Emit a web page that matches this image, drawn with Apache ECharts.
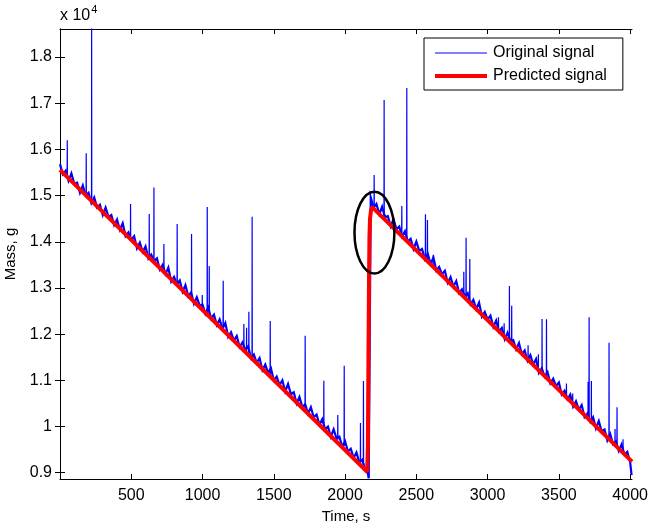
<!DOCTYPE html>
<html>
<head>
<meta charset="utf-8">
<script src="https://cdn.jsdelivr.net/npm/echarts@6/dist/echarts.min.js"></script>
<style>
  html, body { margin: 0; padding: 0; background: #fff; }
  #main { width: 651px; height: 530px; }
</style>
</head>
<body>
<div id="main"></div>
<script>
// original signal, sampled every 20 s (first part before refill, second after)
var seg1Start = 0, seg2Start = 2180, sampleStep = 20;
var seg1Mass = [
  15680, 15460, 15540, 15320, 15480, 15260, 15280, 15060, 15220, 15000,
  15060, 14840, 14960, 14740, 14800, 14580, 14740, 14540, 14580, 14360,
  14480, 14260, 14400, 14120, 14200, 14040, 14120, 13860, 13980, 13780,
  13900, 13640, 13720, 13580, 13640, 13400, 13500, 13300, 13440, 13140,
  13240, 13080, 13160, 12920, 13060, 12820, 12900, 12660, 12800, 12620,
  12640, 12440, 12580, 12340, 12420, 12200, 12320, 12120, 12240, 11940,
  12040, 11860, 11960, 11720, 11820, 11660, 11740, 11480, 11560, 11380,
  11480, 11220, 11340, 11160, 11260, 11000, 11080, 10900, 11000, 10760,
  10920, 10700, 10740, 10500, 10640, 10420, 10480, 10280, 10420, 10200,
  10260, 10040, 10160, 9940, 10000, 9780, 9940, 9740, 9780, 9560,
  9680, 9460, 9520, 9320, 9440, 9220, 9280, 9080, 8980
];
var seg2Mass = [
  14960, 14740, 14820, 14597, 14756, 14535, 14554, 14333, 14492, 14271,
  14330, 14109, 14228, 14007, 14066, 13845, 14004, 13803, 13842, 13621,
  13740, 13519, 13658, 13377, 13456, 13295, 13374, 13113, 13232, 13031,
  13150, 12889, 12968, 12827, 12886, 12645, 12744, 12543, 12682, 12381,
  12480, 12319, 12398, 12157, 12296, 12055, 12134, 11893, 12032, 11851,
  11870, 11669, 11808, 11567, 11646, 11425, 11544, 11343, 11462, 11161,
  11260, 11079, 11178, 10937, 11036, 10875, 10954, 10693, 10772, 10591,
  10690, 10429, 10548, 10367, 10466, 10205, 10284, 10103, 10202, 9961,
  10120, 9899, 9938, 9697, 9836, 9615, 9674, 9473, 9612, 9391,
  9450, 9229
];
var extraPoints = [[2166, 8880], [4010, 8950]];
// spikes [time, mass at foot, peak mass]
var spikes = [
  [51, 15407, 16200], [184, 15008, 15914], [222, 14894, 18700], [495, 14075, 14816],
  [626, 13682, 14600], [659, 13583, 15177], [729, 13373, 13950], [822, 13094, 14383],
  [923, 12791, 14166], [998, 12566, 12846], [1033, 12461, 14750], [1047, 12419, 13474],
  [1145, 12125, 13155], [1290, 11690, 12218], [1309, 11633, 12138], [1325, 11585, 12484],
  [1348, 11516, 14541], [1475, 11135, 12283], [1720, 10400, 11965], [1851, 10007, 10990],
  [1949, 9713, 10248], [1994, 9578, 11315], [2108, 9236, 10075], [2129, 9173, 10984],
  [2204, 14767, 15444], [2274, 14553, 17067], [2398, 14175, 14773], [2433, 14068, 17327],
  [2564, 13669, 14593], [2578, 13626, 14470], [2618, 13504, 13712], [2833, 12848, 13350],
  [2849, 12800, 14087], [2875, 12720, 13625], [3076, 12107, 12363], [3116, 11985, 12233],
  [3153, 11872, 13041], [3169, 11824, 12615], [3284, 11473, 11757], [3356, 11253, 11562],
  [3382, 11174, 12326], [3413, 11079, 12320], [3553, 10652, 10934], [3597, 10518, 10717],
  [3705, 10189, 10969], [3712, 10167, 12363], [3728, 10119, 10984], [3852, 9740, 11813],
  [3894, 9612, 9945], [3908, 9570, 10415], [3950, 9441, 9722]
];
// predicted signal
var predTime = [0, 2155, 2160, 2164, 2168, 2171, 2175, 2182, 2190, 2197, 4013];
var predMass = [15555, 9020, 9600, 11500, 13200, 14100, 14500, 14680, 14750, 14770, 9240];

var xTicks = [500, 1000, 1500, 2000, 2500, 3000, 3500, 4000];
var yTicks = [9000, 10000, 11000, 12000, 13000, 14000, 15000, 16000, 17000, 18000];
var ellipseAt = [2206, 14199], ellipseSpan = [280, 1770];

var original = [];
seg1Mass.forEach(function (m, i) { original.push([seg1Start + i * sampleStep, m]); });
seg2Mass.forEach(function (m, i) { original.push([seg2Start + i * sampleStep, m]); });
extraPoints.forEach(function (p) { original.push(p); });
original.sort(function (a, b) { return a[0] - b[0]; });

// spikes drawn thin, each one a separate little piece
var spikeLines = [];
spikes.forEach(function (p) {
  spikeLines.push([p[0] - 1, p[1]]);
  spikeLines.push([p[0], p[2]]);
  spikeLines.push([p[0] + 1, p[1]]);
  spikeLines.push([p[0] + 1, null]);
});

var predicted = predTime.map(function (t, i) { return [t, predMass[i]]; });

var font = 'Liberation Sans, Arial, Helvetica, sans-serif';
var myChart = echarts.init(document.getElementById('main'));

var option = {
  animation: false,
  textStyle: { fontFamily: font },
  grid: { left: 60, right: 19, top: 29, bottom: 51, outerBoundsMode: 'none', containLabel: false },
  legend: {
    orient: 'vertical',
    left: 424, top: 38,
    padding: [7, 16, 6, 11],
    itemGap: 7,
    itemWidth: 52, itemHeight: 14,
    backgroundColor: '#fff',
    borderColor: '#000', borderWidth: 1,
    textStyle: { fontSize: 16, color: '#000', fontFamily: font, padding: [0, 0, 0, 1] },
    data: [
      { name: 'Original signal', icon: 'path://M0,0 L52,0 L52,1 L0,1 Z' },
      { name: 'Predicted signal', icon: 'path://M0,0 L52,0 L52,4 L0,4 Z' }
    ]
  },
  xAxis: [{
    type: 'value', min: 0, max: 4013,
    name: 'Time, s', nameLocation: 'middle', nameGap: 30,
    nameTextStyle: { fontSize: 15, color: '#000' },
    axisLine: { show: true, lineStyle: { color: '#000', width: 1 } },
    axisTick: { show: true, inside: true, length: 5, customValues: xTicks, lineStyle: { color: '#000' } },
    axisLabel: {
      fontSize: 16, color: '#000', margin: 9, customValues: xTicks,
      formatter: function (v) { return String(v); }
    },
    splitLine: { show: false }
  }, {
    type: 'value', min: 0, max: 4013, position: 'top',
    axisLine: { show: true, lineStyle: { color: '#000', width: 1 } },
    axisTick: { show: true, inside: true, length: 5, customValues: xTicks, lineStyle: { color: '#000' } },
    axisLabel: { show: false },
    splitLine: { show: false }
  }],
  yAxis: [{
    type: 'value', min: 8864, max: 18606,
    name: 'Mass, g', nameLocation: 'middle', nameGap: 42,
    nameTextStyle: { fontSize: 15, color: '#000' },
    axisLine: { show: true, lineStyle: { color: '#000', width: 1 } },
    axisTick: { show: true, inside: true, length: 5, customValues: yTicks, lineStyle: { color: '#000' } },
    axisLabel: {
      fontSize: 16, color: '#000', margin: 8, customValues: yTicks,
      formatter: function (v) { return String(Math.round(v / 100) / 100); }
    },
    splitLine: { show: false }
  }, {
    type: 'value', min: 8864, max: 18606, position: 'right',
    axisLine: { show: true, lineStyle: { color: '#000', width: 1 } },
    axisTick: { show: true, inside: true, length: 5, customValues: yTicks, lineStyle: { color: '#000' } },
    axisLabel: { show: false },
    splitLine: { show: false }
  }],
  graphic: [{
    type: 'text', left: 60, top: 4,
    style: {
      text: '{b|x 10}{s|4}',
      rich: {
        b: { fontSize: 16, fontFamily: font, fill: '#000', verticalAlign: 'bottom', lineHeight: 20 },
        s: { fontSize: 11, fontFamily: font, fill: '#000', verticalAlign: 'top', lineHeight: 20, padding: [0, 0, 8, 1] }
      }
    }
  }],
  series: [{
    name: 'Original signal',
    type: 'line',
    data: original,
    symbol: 'none',
    sampling: 'none',
    clip: true,
    lineStyle: { color: '#0000ff', width: 2.2, join: 'miter' },
    itemStyle: { color: '#0000ff' },
    z: 2
  }, {
    name: 'Original signal',
    type: 'line',
    data: spikeLines,
    symbol: 'none',
    sampling: 'none',
    connectNulls: false,
    clip: true,
    lineStyle: { color: '#0000ff', width: 1.2 },
    itemStyle: { color: '#0000ff' },
    z: 2
  }, {
    name: 'Predicted signal',
    type: 'line',
    data: predicted,
    symbol: 'none',
    clip: true,
    lineStyle: { color: '#ff0000', width: 4 },
    itemStyle: { color: '#ff0000' },
    z: 3
  }, {
    type: 'custom',
    data: [[ellipseAt[0], ellipseAt[1], ellipseSpan[0], ellipseSpan[1]]],
    renderItem: function (params, api) {
      var c = api.coord([api.value(0), api.value(1)]);
      var s = api.size([api.value(2), api.value(3)]);
      return {
        type: 'ellipse',
        shape: { cx: c[0], cy: c[1], rx: s[0] / 2, ry: s[1] / 2 },
        style: { fill: 'none', stroke: '#000', lineWidth: 2.5 }
      };
    },
    silent: true,
    z: 4
  }]
};

myChart.setOption(option);
</script>
</body>
</html>
